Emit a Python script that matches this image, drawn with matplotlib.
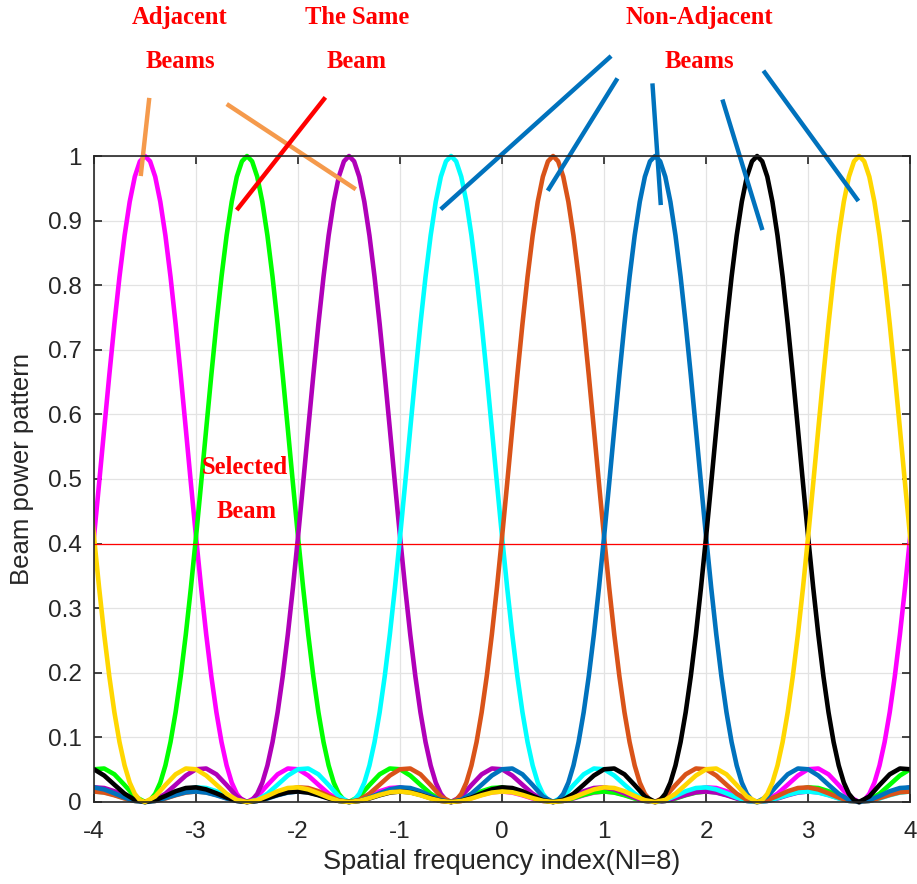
import numpy as np
import matplotlib
matplotlib.use("Agg")
import matplotlib.pyplot as plt
from matplotlib.patches import Rectangle

plt.rcParams['font.family'] = ['Liberation Sans', 'DejaVu Sans']
plt.rcParams['axes.unicode_minus'] = False

# beam centres (spatial frequency index) and colours, in plotting order
centers = [-3.5, -2.5, -1.5, -0.5, 0.5, 1.5, 2.5, 3.5]
colors = ['#FF00FF', '#00FF00', '#B000B8', '#00FFFF', '#D95319', '#0072BD', '#000000', '#FFD700']

# one beam power profile (offset from centre -> power), mirrored below
off_main = [0.0, 0.05, 0.1, 0.15, 0.2, 0.25, 0.3, 0.35, 0.4, 0.45, 0.5,
            0.55, 0.6, 0.65, 0.7, 0.75, 0.8, 0.85, 0.9, 0.95, 1.0]
pow_main = [1.0, 0.9918, 0.9680, 0.9292, 0.8770, 0.8132, 0.7402, 0.6608, 0.5775, 0.4932, 0.4105,
            0.3319, 0.2593, 0.1946, 0.1388, 0.0927, 0.0565, 0.0300, 0.0125, 0.0029, 0.0]
off_side = [1.1, 1.2, 1.3, 1.4, 1.5, 1.6, 1.7, 1.8, 1.9, 2.0,
            2.1, 2.2, 2.3, 2.4, 2.5, 2.6, 2.7, 2.8, 2.9, 3.0,
            3.1, 3.2, 3.3, 3.4, 3.5, 3.6, 3.7, 3.8, 3.9, 4.0]
pow_side = [0.0085, 0.0262, 0.0428, 0.0518, 0.0506, 0.0409, 0.0267, 0.0128, 0.0032, 0.0,
            0.0028, 0.0093, 0.0166, 0.0216, 0.0226, 0.0194, 0.0134, 0.0068, 0.0018, 0.0,
            0.0017, 0.0060, 0.0110, 0.0150, 0.0162, 0.0145, 0.0104, 0.0054, 0.0015, 0.0]
threshold = 0.4

half_off = np.array(off_main + off_side)
half_pow = np.array(pow_main + pow_side)
offsets = np.concatenate([-half_off[:0:-1], half_off])
profile = np.concatenate([half_pow[:0:-1], half_pow])
period = 8

fig = plt.figure(figsize=(9.17, 8.84), dpi=100)
ax = fig.add_axes([0.1025, 0.0928, 0.89, 0.7307])

# clip only left/right so peaks keep their full line width at the top
clip = Rectangle((0, -0.01), 1, 1.02, transform=ax.transAxes, facecolor='none', edgecolor='none')
ax.add_patch(clip)
for c, col in zip(centers, colors):
    for shift in (-period, 0, period):
        ln, = ax.plot(c + shift + offsets, profile, color=col, lw=3.3, solid_capstyle='butt')
        ln.set_clip_path(clip)

ax.axhline(threshold, color='#FF0000', lw=0.9)

ax.set_xlim(-4, 4)
ax.set_ylim(0, 1)
ax.set_xticks(np.arange(-4, 5, 1))
ax.set_yticks(np.round(np.arange(0, 1.01, 0.1), 1))
ax.set_yticklabels(['0'] + ['%.1f' % v for v in np.arange(0.1, 0.95, 0.1)] + ['1'])
ax.grid(True, color='#E3E3E3', lw=0.9)
ax.set_axisbelow(True)
ax.tick_params(direction='in', length=6, width=1.2, top=True, right=True,
               labelsize=17.5, colors='#262626')
ax.tick_params(axis='x', pad=14)
ax.tick_params(axis='y', pad=9)
for s in ax.spines.values():
    s.set_color('#262626')
    s.set_linewidth(1.2)
ax.set_xlabel('Spatial frequency index(Nl=8)', fontsize=19.5, color='#262626', labelpad=4)
ax.set_ylabel('Beam power pattern', fontsize=18.5, color='#262626')
ax.yaxis.set_label_coords(-0.074, 0.515)

# annotations
tfont = dict(family=['Liberation Serif', 'DejaVu Serif'], weight='bold', color='#FF0000',
             fontsize=17.7, ha='center', va='center')
labels = [(-3.157, 1.214, 'Adjacent'), (-3.157, 1.147, 'Beams'),
          (-1.422, 1.214, 'The Same'), (-1.422, 1.147, 'Beam'),
          (1.931, 1.214, 'Non-Adjacent'), (1.931, 1.147, 'Beams'),
          (-2.52, 0.518, 'Selected'), (-2.50, 0.450, 'Beam')]
for tx, ty, t in labels:
    ax.text(tx, ty, t, clip_on=False, **tfont)

pointers = [((-3.458, 1.090), (-3.542, 0.969), '#F59A4C'),
            ((-2.699, 1.0805), (-1.434, 0.9485), '#F59A4C'),
            ((-1.732, 1.0908), (-2.601, 0.9164), '#FF0000'),
            ((1.069, 1.1548), (-0.601, 0.9175), '#0072BD'),
            ((1.131, 1.1202), (0.448, 0.9463), '#0072BD'),
            ((1.474, 1.1125), (1.556, 0.9241), '#0072BD'),
            ((2.160, 1.0875), (2.552, 0.8854), '#0072BD'),
            ((2.562, 1.1321), (3.493, 0.9303), '#0072BD')]
for (x1, y1), (x2, y2), col in pointers:
    ax.plot([x1, x2], [y1, y2], color=col, lw=3.2, clip_on=False, solid_capstyle='butt')

fig.savefig('out.png', dpi=100)
